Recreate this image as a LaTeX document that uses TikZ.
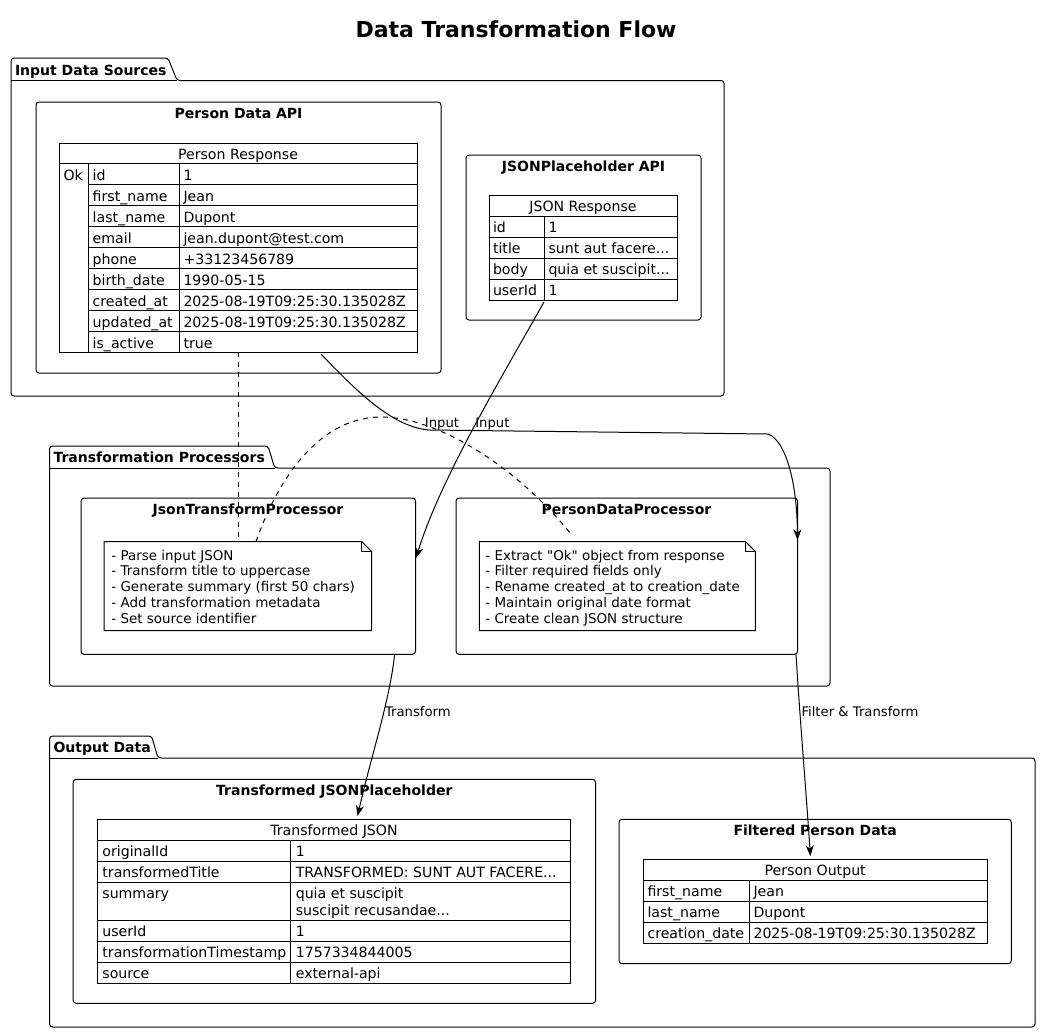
\documentclass[tikz,border=0pt]{standalone}
\usepackage{fontspec}
\setmainfont{DejaVu Sans}[Ligatures=TeXOff]
\usetikzlibrary{arrows.meta,fit}
\begin{document}
\begin{tikzpicture}[x=0.75pt,y=-0.75pt,
  every node/.style={inner sep=0pt, outer sep=0pt},
  frame/.style={draw, line width=0.75pt, rounded corners=2.25pt},
  region/.style={inner sep=0pt, outer sep=0pt},
  outline/.style={line width=0.75pt},
  grid/.style={line width=0.75pt},
  ttl/.style={font=\bfseries\fontsize{10.5}{12}\selectfont, anchor=base},
  pkgttl/.style={font=\bfseries\fontsize{10.5}{12}\selectfont, anchor=base west},
  cell/.style={font=\fontsize{10.6}{12.6}\selectfont, anchor=base west},
  hdr/.style={font=\fontsize{10.6}{12.6}\selectfont, anchor=base},
  ntxt/.style={font=\fontsize{10.1}{11.8}\selectfont, anchor=base west},
  lbl/.style={font=\fontsize{9.9}{11}\selectfont},
  conn/.style={line width=0.75pt, -{Stealth[length=8pt,width=6pt,inset=2.5pt]}},
  notelink/.style={line width=0.75pt, dash pattern=on 3.75pt off 3.75pt}
]
\useasboundingbox (0,0) rectangle (1041,1033);
\fill[white] (0,0) rectangle (1041,1033);

% title
\node[font=\bfseries\fontsize{16.5}{19}\selectfont, anchor=base] (title) at (516,37) {Data Transformation Flow};

% ================= Package: Input Data Sources
\draw[outline, rounded corners=2.25pt] (11,396) -- (11,58) -- (168,58) -- (177,80.5) -- (724,80.5) -- (724,396) -- cycle;
\draw[outline] (11,80.5) -- (177,80.5);
\node[region, fit={(11,80.5) (724,396)}] (pkgin) {};
\node[pkgttl] (pkgint) at (15,75) {Input Data Sources};

% Person Data API
\node[frame, fit={(36,102) (441,373)}] (pdapi) {};
\node[ttl] (pdapit) at (238.5,118.3) {Person Data API};
% Person Response table
\node[draw, grid, fit={(59,143) (417,352.3)}] (ptable) {};
\draw[grid] (59,163.7) -- (417,163.7);
\foreach \yy in {184.7,205.7,226.7,247.7,268.7,289.7,310.7,331.7} \draw[grid] (88.7,\yy) -- (417,\yy);
\draw[grid] (88.7,163.7) -- (88.7,352.3);
\draw[grid] (179,163.7) -- (179,352.3);
\node[hdr] (ph) at (238,159.3) {Person Response};
\node[cell] (pok) at (63.5,180) {Ok};
\node[cell] (pk1) at (92.7,180) {id};          \node[cell] (pv1) at (183.5,180) {1};
\node[cell] (pk2) at (92.7,201) {first\_name};  \node[cell] (pv2) at (183.5,201) {Jean};
\node[cell] (pk3) at (92.7,222) {last\_name};   \node[cell] (pv3) at (183.5,222) {Dupont};
\node[cell] (pk4) at (92.7,243) {email};        \node[cell] (pv4) at (183.5,243) {jean.dupont@test.com};
\node[cell] (pk5) at (92.7,264) {phone};        \node[cell] (pv5) at (183.5,264) {+33123456789};
\node[cell] (pk6) at (92.7,285) {birth\_date};  \node[cell] (pv6) at (183.5,285) {1990-05-15};
\node[cell] (pk7) at (92.7,306) {created\_at};  \node[cell] (pv7) at (183.5,306) {2025-08-19T09:25:30.135028Z};
\node[cell] (pk8) at (92.7,327) {updated\_at};  \node[cell] (pv8) at (183.5,327) {2025-08-19T09:25:30.135028Z};
\node[cell] (pk9) at (92.7,348) {is\_active};   \node[cell] (pv9) at (183.5,348) {true};

% JSONPlaceholder API
\node[frame, fit={(466,155) (701,320)}] (jpapi) {};
\node[ttl] (jpapit) at (583.5,171) {JSONPlaceholder API};
\node[draw, grid, fit={(489,195.3) (677,300.3)}] (jtable) {};
\foreach \yy in {216.3,237.3,258.3,279.3} \draw[grid] (489,\yy) -- (677,\yy);
\draw[grid] (544,216.3) -- (544,300.3);
\node[hdr] (jh) at (583,211.6) {JSON Response};
\node[cell] (jk1) at (493,232.3) {id};     \node[cell] (jv1) at (548.5,232.3) {1};
\node[cell] (jk2) at (493,253.3) {title};  \node[cell] (jv2) at (548.5,253.3) {sunt aut facere...};
\node[cell] (jk3) at (493,274.3) {body};   \node[cell] (jv3) at (548.5,274.3) {quia et suscipit...};
\node[cell] (jk4) at (493,295.3) {userId}; \node[cell] (jv4) at (548.5,295.3) {1};

% ================= Package: Transformation Processors
\draw[outline, rounded corners=2.25pt] (49.5,686) -- (49.5,446) -- (268,446) -- (274.7,468) -- (830,468) -- (830,686) -- cycle;
\draw[outline] (49.5,468) -- (274.7,468);
\node[region, fit={(49.5,468) (830,686)}] (pkgtp) {};
\node[pkgttl] (pkgtpt) at (53.5,462.5) {Transformation Processors};

% JsonTransformProcessor
\node[frame, fit={(81,498) (415.5,654.3)}] (jtp) {};
\node[ttl] (jtpt) at (248,514) {JsonTransformProcessor};
\draw[outline] (104,541.5) -- (361.7,541.5) -- (371.7,551.5) -- (371.7,630.5) -- (104,630.5) -- cycle;
\draw[outline] (361.7,541.5) -- (361.7,551.5) -- (371.7,551.5);
\node[region, fit={(104,541.5) (371.7,630.5)}] (note1) {};
\node[ntxt] (n1a) at (111.4,560)    {- Parse input JSON};
\node[ntxt] (n1b) at (111.4,575.75) {- Transform title to uppercase};
\node[ntxt] (n1c) at (111.4,591.5)  {- Generate summary (first 50 chars)};
\node[ntxt] (n1d) at (111.4,607.25) {- Add transformation metadata};
\node[ntxt] (n1e) at (111.4,623)    {- Set source identifier};

% PersonDataProcessor
\node[frame, fit={(456,498) (797.5,654.3)}] (pdp) {};
\node[ttl] (pdpt) at (626.5,514) {PersonDataProcessor};
\draw[outline] (479.3,541.5) -- (745.3,541.5) -- (755.3,551.5) -- (755.3,630.5) -- (479.3,630.5) -- cycle;
\draw[outline] (745.3,541.5) -- (745.3,551.5) -- (755.3,551.5);
\node[region, fit={(479.3,541.5) (755.3,630.5)}] (note2) {};
\node[ntxt] (n2a) at (485.4,560)    {- Extract "Ok" object from response};
\node[ntxt] (n2b) at (485.4,575.75) {- Filter required fields only};
\node[ntxt] (n2c) at (485.4,591.5)  {- Rename created\_at to creation\_date};
\node[ntxt] (n2d) at (485.4,607.25) {- Maintain original date format};
\node[ntxt] (n2e) at (485.4,623)    {- Create clean JSON structure};

% ================= Package: Output Data
\draw[outline, rounded corners=2.25pt] (49.6,1027) -- (49.6,736) -- (151.6,736) -- (158,758) -- (1035,758) -- (1035,1027) -- cycle;
\draw[outline] (49.6,758) -- (158,758);
\node[region, fit={(49.6,758) (1035,1027)}] (pkgout) {};
\node[pkgttl] (pkgoutt) at (53.5,752.5) {Output Data};

% Transformed JSONPlaceholder
\node[frame, fit={(73.2,779.3) (595.5,1003.3)}] (tjp) {};
\node[ttl] (tjpt) at (334.3,795.3) {Transformed JSONPlaceholder};
\node[draw, grid, fit={(97.4,819.3) (570.6,983.7)}] (ttable) {};
\foreach \yy in {840.3,861.3,882.3,920.7,941.7,962.7} \draw[grid] (97.4,\yy) -- (570.6,\yy);
\draw[grid] (290.6,840.3) -- (290.6,983.7);
\node[hdr] (th) at (334,835.6) {Transformed JSON};
\node[cell] (tk1) at (102.4,856.3) {originalId};              \node[cell] (tv1) at (295.8,856.3) {1};
\node[cell] (tk2) at (102.4,877.3) {transformedTitle};        \node[cell] (tv2) at (295.8,877.3) {TRANSFORMED: SUNT AUT FACERE...};
\node[cell] (tk3) at (102.4,898.6) {summary};                 \node[cell] (tv3) at (295.8,898.6) {quia et suscipit};
\node[cell] (tv3b) at (295.8,915) {suscipit recusandae...};
\node[cell] (tk4) at (102.4,936.7) {userId};                  \node[cell] (tv4) at (295.8,936.7) {1};
\node[cell] (tk5) at (102.4,957.7) {transformationTimestamp}; \node[cell] (tv5) at (295.8,957.7) {1757334844005};
\node[cell] (tk6) at (102.4,978.7) {source};                  \node[cell] (tv6) at (295.8,978.7) {external-api};

% Filtered Person Data
\node[frame, fit={(619,819.3) (1011.3,963.7)}] (fpd) {};
\node[ttl] (fpdt) at (815.2,835.3) {Filtered Person Data};
\node[draw, grid, fit={(643.3,859.3) (987,943.3)}] (otable) {};
\foreach \yy in {880.3,901.3,922.3} \draw[grid] (643.3,\yy) -- (987,\yy);
\draw[grid] (749.2,880.3) -- (749.2,943.3);
\node[hdr] (oh) at (815.2,875.6) {Person Output};
\node[cell] (ok1) at (647.5,896.3) {first\_name};    \node[cell] (ov1) at (753.5,896.3) {Jean};
\node[cell] (ok2) at (647.5,917.3) {last\_name};     \node[cell] (ov2) at (753.5,917.3) {Dupont};
\node[cell] (ok3) at (647.5,938.3) {creation\_date}; \node[cell] (ov3) at (753.5,938.3) {2025-08-19T09:25:30.135028Z};

% ================= connector end points
\coordinate (pt-out)  at (321,354);
\coordinate (pt-dash) at (238.3,352.3);
\coordinate (jt-out)  at (544,302);
\coordinate (pdp-in)  at (797.5,540);
\coordinate (jtp-in)  at (416,558);
\coordinate (n1-top)  at (238.3,541.5);
\coordinate (n1-top2) at (256,541.5);
\coordinate (n2-top)  at (571.7,535);
\coordinate (jtp-out) at (394.6,654.3);
\coordinate (tt-in)   at (357.6,816);
\coordinate (pdp-out) at (796,654.3);
\coordinate (ot-in)   at (810.4,856);

% note links
\draw[notelink] (pt-dash) -- (n1-top);
\draw[notelink] (n1-top2) .. controls (285,460) and (330,417) .. (381,417) .. controls (440,417) and (520,470) .. (n2-top);

% connectors
\draw[conn] (pt-out) .. controls (360,395) and (395,428) .. (430,430) -- (768,434) .. controls (785,440) and (797,480) .. (pdp-in);
\draw[conn] (jt-out) .. controls (500,380) and (440,480) .. (jtp-in);
\draw[conn] (jtp-out) .. controls (390,700) and (370,760) .. (tt-in);
\draw[conn] (pdp-out) .. controls (800,720) and (806,790) .. (ot-in);

% connector labels
\node[lbl, anchor=base] (lin1) at (442,427.3) {Input};
\node[lbl, anchor=base] (lin2) at (492.4,427.3) {Input};
\node[lbl, anchor=base west] (ltr) at (385,716.7) {Transform};
\node[lbl, anchor=base west] (lft) at (801.5,716.7) {Filter \& Transform};
\end{tikzpicture}
\end{document}
